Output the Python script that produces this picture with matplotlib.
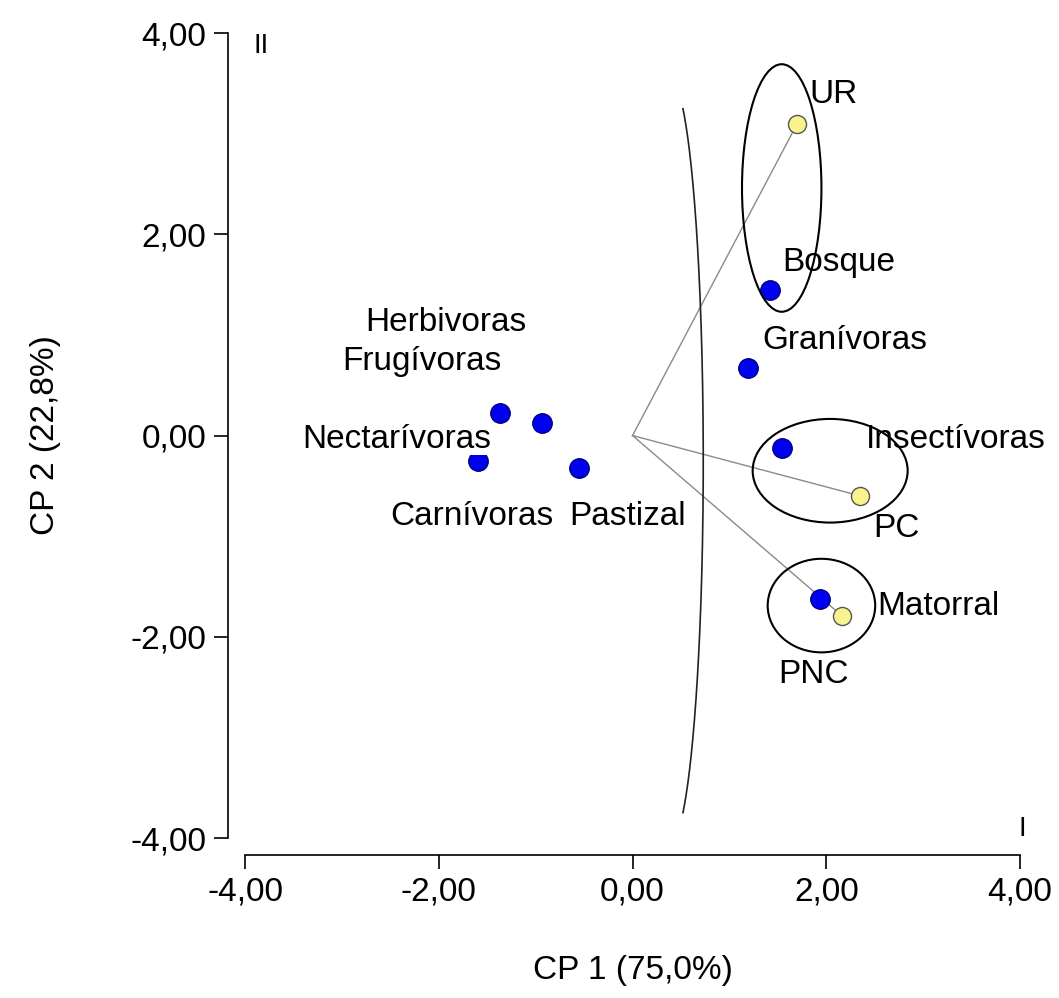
import numpy as np
import matplotlib
matplotlib.use("Agg")
import matplotlib.pyplot as plt
from matplotlib.patches import Ellipse

plt.rcParams['font.family'] = ['Liberation Sans', 'DejaVu Sans']

# blue points (guilds / habitats)
blue_x = [1.42, 1.19, 1.54, 1.94, -1.37, -0.93, -0.55, -1.60]
blue_y = [1.45, 0.67, -0.12, -1.62, 0.22, 0.12, -0.32, -0.25]

# yellow points (sites), joined to the origin
site_names = ['UR', 'PC', 'PNC']
site_x = [1.70, 2.35, 2.16]
site_y = [3.10, -0.60, -1.79]

# labels: text, x, y (baseline)
label_text = ['UR', 'Bosque', 'Granívoras', 'Insectívoras', 'PC', 'Matorral', 'PNC',
              'Herbivoras', 'Frugívoras', 'Nectarívoras', 'Carnívoras', 'Pastizal']
label_x = [1.83, 1.55, 1.34, 2.41, 2.48, 2.53, 1.50, -2.76, -3.00, -3.41, -2.50, -0.65]
label_y = [3.30, 1.64, 0.86, -0.12, -1.01, -1.78, -2.46, 1.04, 0.65, -0.12, -0.89, -0.89]

# grouping ellipses: centre x, centre y, width, height
ell_cx = [1.54, 2.04, 1.95]
ell_cy = [2.46, -0.35, -1.69]
ell_w = [0.82, 1.60, 1.11]
ell_h = [2.46, 1.03, 0.93]

ticks = [-4, -2, 0, 2, 4]
tick_labels = ['-4,00', '-2,00', '0,00', '2,00', '4,00']

fig = plt.figure(figsize=(10.59, 9.98), dpi=100)
ax = fig.add_axes([0.2314, 0.1603, 0.7318, 0.8066])

# lines from origin to sites
for sx, sy in zip(site_x, site_y):
    ax.plot([0, sx], [0, sy], color='#8a8a8a', lw=1, zorder=1)

# separating curve (part of a tall narrow ellipse)
t = np.radians(np.linspace(-67, 67, 200))
ax.plot(0.386 + 0.344 * np.cos(t), -0.25 + 3.8 * np.sin(t), color='#222222', lw=1.2, zorder=1)

ax.plot(blue_x, blue_y, 'o', ms=14, mfc='#0000f0', mec='#000080', mew=1, zorder=2)
ax.plot(site_x, site_y, 'o', ms=13, mfc='#f8f38c', mec='#555555', mew=1, zorder=2)

for txt, x, y in zip(label_text, label_x, label_y):
    ax.text(x, y, txt, fontsize=24, ha='left', va='baseline', zorder=3,
            bbox=dict(fc='white', ec='none', pad=0))

for cx, cy, w, h in zip(ell_cx, ell_cy, ell_w, ell_h):
    ax.add_patch(Ellipse((cx, cy), w, h, fill=False, ec='black', lw=1.5, zorder=4))

ax.text(-3.83, 3.80, 'II', fontsize=20, ha='center', va='baseline')
ax.text(4.02, -3.98, 'I', fontsize=20, ha='center', va='baseline')

ax.set_xlim(-4, 4)
ax.set_ylim(-4, 4)
ax.set_xticks(ticks)
ax.set_xticklabels(tick_labels)
ax.set_yticks(ticks)
ax.set_yticklabels(tick_labels)
ax.tick_params(labelsize=24, length=10, width=1.2, pad=6)

for s in ['top', 'right']:
    ax.spines[s].set_visible(False)
for s in ['left', 'bottom']:
    ax.spines[s].set_position(('outward', 12))
    ax.spines[s].set_linewidth(1.2)

ax.set_xlabel('CP 1 (75,0%)', fontsize=24, labelpad=34)
ax.set_ylabel('CP 2 (22,8%)', fontsize=24, labelpad=50)

fig.savefig('out.png', dpi=100)
